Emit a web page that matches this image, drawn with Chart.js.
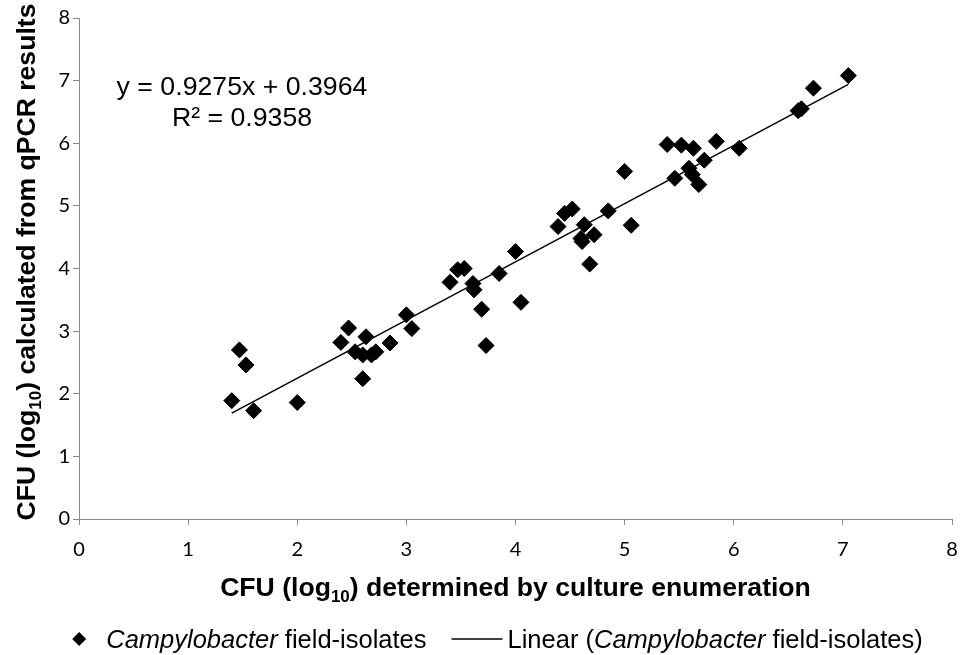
<!DOCTYPE html>
<html>
<head>
<meta charset="utf-8">
<script src="https://cdn.jsdelivr.net/npm/chart.js@4.4.1/dist/chart.umd.min.js"></script>
<style>
  html, body { margin: 0; padding: 0; background: #fff; }
  #wrap { width: 961px; height: 655px; position: relative; }
</style>
</head>
<body>
<div id="wrap"><canvas id="scatterChart"></canvas></div>
<script>
'use strict';

// log10 CFU by culture enumeration (x) vs. log10 CFU from qPCR (y)
const cultureLog = [
  1.40, 1.47, 1.53, 1.60, 2.00, 2.40, 2.47, 2.53, 2.60, 2.63,
  2.68, 2.72, 2.60, 2.85, 3.00, 3.05, 3.40, 3.47, 3.53, 3.61,
  3.62, 3.69, 3.73, 3.85, 4.00, 4.05, 4.39, 4.45, 4.52, 4.63,
  4.60, 4.61, 4.72, 4.68, 4.85, 5.00, 5.06, 5.39, 5.52, 5.63,
  5.84, 6.05, 5.73, 5.59, 5.62, 5.46, 5.68, 6.59, 6.62, 6.73,
  7.05,
];
const qpcrLog = [
  1.89, 2.70, 2.46, 1.73, 1.86, 2.82, 3.05, 2.67, 2.62, 2.91,
  2.62, 2.67, 2.24, 2.81, 3.26, 3.04, 3.78, 3.98, 4.00, 3.76,
  3.66, 3.35, 2.77, 3.92, 4.27, 3.46, 4.67, 4.88, 4.95, 4.70,
  4.48, 4.43, 4.54, 4.07, 4.92, 5.55, 4.69, 5.98, 5.97, 5.92,
  6.03, 5.92, 5.73, 5.60, 5.50, 5.44, 5.34, 6.52, 6.55, 6.88,
  7.08,
];

// linear trendline ends, as drawn in the figure
const trendX = [1.40, 7.05];
const trendY = [1.69, 6.94];

const tickValues = [0, 1, 2, 3, 4, 5, 6, 7, 8];
const equationLines = ['y = 0.9275x + 0.3964', 'R\u00B2 = 0.9358'];

const SANS  = '"Liberation Sans", Arial, sans-serif';
const TICKF = 'Lato, "Liberation Sans", sans-serif';
const AXIS_GREY = '#898989';

function measureRuns(ctx, runs) {
  let total = 0;
  runs.forEach((r) => {
    ctx.font = r.font;
    r.w = ctx.measureText(r.text).width;
    total += r.w;
  });
  return total;
}

function drawRuns(ctx, runs, x, y) {
  ctx.textAlign = 'left';
  ctx.textBaseline = 'alphabetic';
  runs.forEach((r) => {
    ctx.font = r.font;
    ctx.fillText(r.text, x, y + (r.dy || 0));
    x += r.w;
  });
  return x;
}

function drawCentered(ctx, runs, cx, y) {
  const w = measureRuns(ctx, runs);
  drawRuns(ctx, runs, cx - w / 2, y);
}

const annotations = {
  id: 'annotations',
  afterDraw(chart) {
    const ctx = chart.ctx;
    const area = chart.chartArea;
    const bold = 'bold 26.6px ' + SANS;
    const sub  = 'bold 17px ' + SANS;
    ctx.save();
    ctx.fillStyle = '#000';

    // x axis title
    drawCentered(ctx, [
      { text: 'CFU (log', font: bold },
      { text: '10', font: sub, dy: 6 },
      { text: ') determined by culture enumeration', font: bold },
    ], (area.left + area.right) / 2, 596);

    // y axis title
    ctx.save();
    ctx.translate(26, 262);
    ctx.rotate(-Math.PI / 2);
    drawCentered(ctx, [
      { text: 'CFU (log', font: bold },
      { text: '10', font: sub, dy: 6 },
      { text: ') calculated from qPCR results', font: bold },
    ], 0, 9);
    ctx.restore();

    // trendline equation
    const eqFont = '26.7px ' + SANS;
    drawCentered(ctx, [{ text: equationLines[0], font: eqFont }], 242, 95);
    drawCentered(ctx, [{ text: equationLines[1], font: eqFont }], 242, 126);

    // legend
    const f  = '25.5px ' + SANS;
    const fi = 'italic 25.5px ' + SANS;
    const left  = [{ text: 'Campylobacter', font: fi }, { text: ' field-isolates', font: f }];
    const right = [{ text: 'Linear (', font: f }, { text: 'Campylobacter', font: fi },
                   { text: ' field-isolates)', font: f }];
    const wL = measureRuns(ctx, left);
    const wR = measureRuns(ctx, right);
    const markW = 14, gap1 = 20, gap2 = 25, lineW = 51, gap3 = 5;
    const total = markW + gap1 + wL + gap2 + lineW + gap3 + wR;
    const midY = 639;
    let x = 497.5 - total / 2;

    ctx.beginPath();
    ctx.moveTo(x, midY);
    ctx.lineTo(x + markW / 2, midY - markW / 2);
    ctx.lineTo(x + markW, midY);
    ctx.lineTo(x + markW / 2, midY + markW / 2);
    ctx.closePath();
    ctx.fill();
    x += markW + gap1;
    x = drawRuns(ctx, left, x, midY + 9);
    x += gap2;

    ctx.strokeStyle = '#000';
    ctx.lineWidth = 1.5;
    ctx.beginPath();
    ctx.moveTo(x, midY);
    ctx.lineTo(x + lineW, midY);
    ctx.stroke();
    x += lineW + gap3;
    drawRuns(ctx, right, x, midY + 9);

    ctx.restore();
  },
};

const points = cultureLog.map((v, i) => ({ x: v, y: qpcrLog[i] }));
const trend  = trendX.map((v, i) => ({ x: v, y: trendY[i] }));

function axisOptions(isX) {
  return {
    type: 'linear',
    min: tickValues[0],
    max: tickValues[tickValues.length - 1],
    afterBuildTicks: (scale) => { scale.ticks = tickValues.map((v) => ({ value: v })); },
    afterFit: (scale) => {
      // fixed plot box: left 79, right 954, top 18, bottom 519
      if (isX) {
        scale.height = 136;
        scale.paddingLeft = 0;
        scale.paddingRight = 0;
      } else {
        scale.width = 79;
        scale.paddingTop = 0;
        scale.paddingBottom = 0;
      }
    },
    grid: {
      display: true,
      drawOnChartArea: false,
      drawTicks: true,
      tickLength: 6,
      tickColor: AXIS_GREY,
    },
    border: { display: true, color: AXIS_GREY, width: 1 },
    ticks: {
      color: '#000',
      padding: isX ? 13 : 3,
      font: { family: TICKF, size: 20 },
    },
  };
}

new Chart(document.getElementById('scatterChart'), {
  type: 'scatter',
  data: {
    datasets: [
      {
        type: 'line',
        label: 'Linear (Campylobacter field-isolates)',
        data: trend,
        borderColor: '#000',
        borderWidth: 1.5,
        pointRadius: 0,
        fill: false,
        tension: 0,
      },
      {
        label: 'Campylobacter field-isolates',
        data: points,
        pointStyle: 'rectRot',
        pointRadius: 8,
        pointBackgroundColor: '#000',
        pointBorderColor: '#000',
        pointBorderWidth: 1,
      },
    ],
  },
  options: {
    responsive: true,
    maintainAspectRatio: false,
    animation: false,
    layout: { padding: { top: 18, right: 7, left: 0, bottom: 0 } },
    plugins: {
      legend: { display: false },
      tooltip: { enabled: false },
    },
    scales: {
      x: axisOptions(true),
      y: axisOptions(false),
    },
  },
  plugins: [annotations],
});
</script>
</body>
</html>
